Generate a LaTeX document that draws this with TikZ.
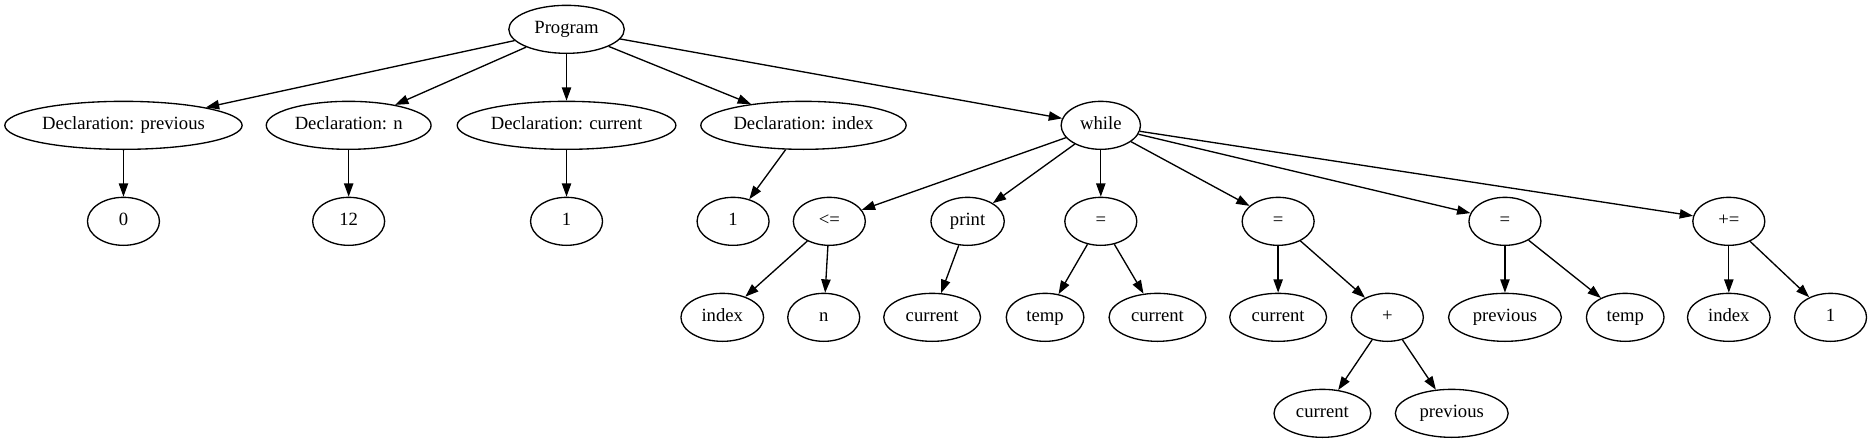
\documentclass[tikz,border=0pt]{standalone}
\usepackage{fontspec}
\setmainfont{Liberation Serif}
\usetikzlibrary{shapes.geometric,arrows.meta}
\tikzset{
  nd/.style={draw=black, line width=1pt, ellipse, minimum width=54pt, minimum height=36pt,
    inner xsep=0.5pt, inner ysep=1pt, text height=9.5pt, text depth=3pt,
    font=\fontsize{14pt}{16pt}\selectfont},
  wd/.style={minimum width=#1pt},
  ed/.style={draw=black, line width=1pt, -{Triangle[length=10pt,width=7pt]}},
}
\begin{document}
\begin{tikzpicture}[x=1pt,y=-1pt]
\useasboundingbox[fill=white] (0,0) rectangle (1404,332.25);
% row 0
\node[nd, wd=86.6] (prog) at (424.9,22) {Program};
% row 1
\node[nd, wd=178] (dprev) at (92.6,94) {Declaration: previous};
\node[nd, wd=123.6] (dn) at (261.5,94) {Declaration: n};
\node[nd, wd=164] (dcur) at (424.9,94) {Declaration: current};
\node[nd, wd=154] (didx) at (602.6,94) {Declaration: index};
\node[nd, wd=59.5] (wh) at (825.6,94) {while};
% row 2
\node[nd] (v0) at (92.6,166) {0};
\node[nd] (v12) at (261.5,166) {12};
\node[nd] (v1a) at (424.9,166) {1};
\node[nd] (v1b) at (549.8,166) {1};
\node[nd] (le) at (622,166) {<=};
\node[nd, wd=55] (pr) at (725.7,166) {print};
\node[nd] (eqa) at (825.6,166) {=};
\node[nd] (eqb) at (958.6,166) {=};
\node[nd] (eqc) at (1128.7,166) {=};
\node[nd] (pe) at (1296.6,166) {+=};
% row 3
\node[nd, wd=62] (lidx) at (541.7,238) {index};
\node[nd] (ln) at (617.8,238) {n};
\node[nd, wd=72.6] (pcur) at (699.1,238) {current};
\node[nd, wd=58.2] (atmp) at (783.8,238) {temp};
\node[nd, wd=72.6] (acur) at (868.1,238) {current};
\node[nd, wd=72.6] (bcur) at (958.6,238) {current};
\node[nd] (plus) at (1040.5,238) {+};
\node[nd, wd=84.6] (cprev) at (1128.7,238) {previous};
\node[nd, wd=58.2] (ctmp) at (1218.9,238) {temp};
\node[nd, wd=62] (eidx) at (1296.6,238) {index};
\node[nd] (one) at (1372.9,238) {1};
% row 4
\node[nd, wd=72.6] (pcur2) at (991.8,310) {current};
\node[nd, wd=84.6] (pprev) at (1088.8,310) {previous};
% edges
\foreach \a/\b in {prog/dprev, prog/dn, prog/dcur, prog/didx, prog/wh,
  dprev/v0, dn/v12, dcur/v1a, didx/v1b,
  wh/le, wh/pr, wh/eqa, wh/eqb, wh/eqc, wh/pe,
  le/lidx, le/ln, pr/pcur, eqa/atmp, eqa/acur, eqb/bcur, eqb/plus,
  plus/pcur2, plus/pprev, eqc/cprev, eqc/ctmp, pe/eidx, pe/one}
  \draw[ed] (\a) -- (\b);
\end{tikzpicture}
\end{document}
